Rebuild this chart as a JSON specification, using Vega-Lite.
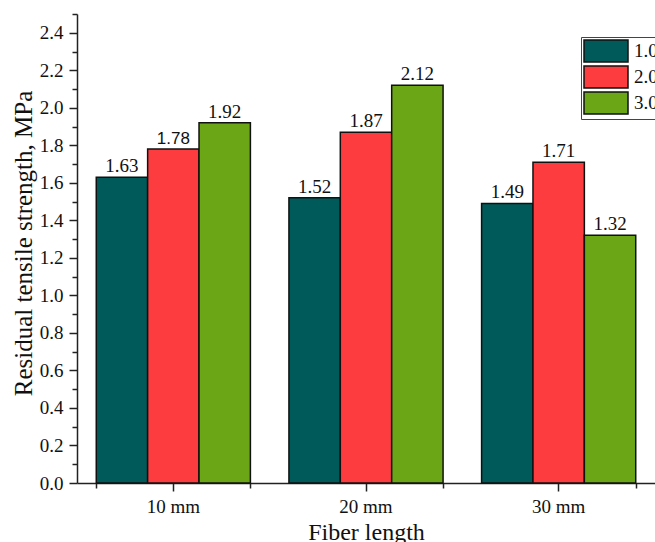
{
  "$schema": "https://vega.github.io/schema/vega-lite/v6.json",
  "width": 578,
  "height": 469,
  "autosize": {"type": "none"},
  "padding": {"left": 77, "top": 14, "right": 0, "bottom": 59},
  "background": "white",
  "config": {
    "view": {"stroke": null},
    "font": "Liberation Serif",
    "axis": {
      "domainColor": "#222",
      "domainWidth": 1.5,
      "tickColor": "#222",
      "tickWidth": 1.5,
      "labelColor": "#111",
      "titleColor": "#111",
      "labelFont": "Liberation Serif",
      "titleFont": "Liberation Serif",
      "titleFontWeight": "normal",
      "grid": false
    }
  },
  "data": {
    "values": [
      {"length": "10 mm", "content": "1.0", "value": 1.63},
      {"length": "10 mm", "content": "2.0", "value": 1.78},
      {"length": "10 mm", "content": "3.0", "value": 1.92},
      {"length": "20 mm", "content": "1.0", "value": 1.52},
      {"length": "20 mm", "content": "2.0", "value": 1.87},
      {"length": "20 mm", "content": "3.0", "value": 2.12},
      {"length": "30 mm", "content": "1.0", "value": 1.49},
      {"length": "30 mm", "content": "2.0", "value": 1.71},
      {"length": "30 mm", "content": "3.0", "value": 1.32}
    ]
  },
  "encoding": {
    "xOffset": {"field": "content", "type": "nominal", "scale": {"domain": ["1.0", "2.0", "3.0"]}},
    "y": {
      "field": "value",
      "type": "quantitative",
      "scale": {"domain": [0, 2.5], "nice": false},
      "axis": {
        "title": "Residual tensile strength, MPa",
        "titleFontSize": 25,
        "titlePadding": 3,
        "titleY": 229,
        "labelFontSize": 19,
        "labelPadding": 6,
        "values": [0, 0.1, 0.2, 0.3, 0.4, 0.5, 0.6, 0.7, 0.8, 0.9, 1.0, 1.1, 1.2, 1.3, 1.4, 1.5, 1.6, 1.7, 1.8, 1.9, 2.0, 2.1, 2.2, 2.3, 2.4, 2.5],
        "labelExpr": "round(datum.value * 10) % 2 === 0 ? format(datum.value, '.1f') : ''",
        "tickSize": {"condition": {"test": "round(datum.value * 10) % 2 === 0", "value": 8}, "value": 5}
      }
    }
  },
  "layer": [
    {
      "mark": {"type": "bar", "stroke": "#111", "strokeWidth": 1.5},
      "encoding": {
        "x": {
          "field": "length",
          "type": "nominal",
          "scale": {"paddingInner": 0.2, "paddingOuter": 0.1},
          "axis": {
            "title": "Fiber length",
            "titleFontSize": 24,
            "titlePadding": 4,
            "labelFontSize": 19,
            "labelAngle": 0,
            "labelPadding": 6,
            "tickSize": 8,
            "orient": "bottom"
          }
        },
        "color": {
          "field": "content",
          "type": "nominal",
          "scale": {"domain": ["1.0", "2.0", "3.0"], "range": ["#015a5a", "#fd3c3f", "#6ba616"]},
          "legend": {
            "title": null,
            "orient": "none",
            "legendX": 504,
            "legendY": 23,
            "symbolType": "M-1,-1H3V1H-1Z",
            "symbolSize": 484,
            "symbolStrokeColor": "#111",
            "symbolStrokeWidth": 1.5,
            "symbolOpacity": 1,
            "labelFont": "Liberation Serif",
            "labelFontSize": 19,
            "labelColor": "#111",
            "labelOffset": 27,
            "rowPadding": -3,
            "padding": 2,
            "strokeColor": "#444"
          }
        }
      }
    },
    {
      "transform": [{"filter": "!(datum.length === '10 mm' && datum.content === '2.0')"}],
      "mark": {"type": "text", "baseline": "alphabetic", "dy": -5, "fontSize": 19, "font": "Liberation Serif", "color": "#111"},
      "encoding": {
        "x": {
          "field": "length",
          "type": "nominal",
          "axis": {
            "orient": "bottom",
            "tickBand": "extent",
            "labels": false,
            "domain": false,
            "title": null,
            "tickSize": 5
          }
        },
        "text": {"field": "value", "type": "quantitative", "format": ".2f"}
      }
    },
    {
      "transform": [{"filter": "datum.length === '10 mm' && datum.content === '2.0'"}],
      "mark": {"type": "text", "baseline": "alphabetic", "dy": -5, "fontSize": 17, "font": "Liberation Sans", "color": "#111"},
      "encoding": {
        "x": {"field": "length", "type": "nominal", "axis": null},
        "text": {"field": "value", "type": "quantitative", "format": ".2f"}
      }
    }
  ],
  "resolve": {"axis": {"x": "independent"}}
}
